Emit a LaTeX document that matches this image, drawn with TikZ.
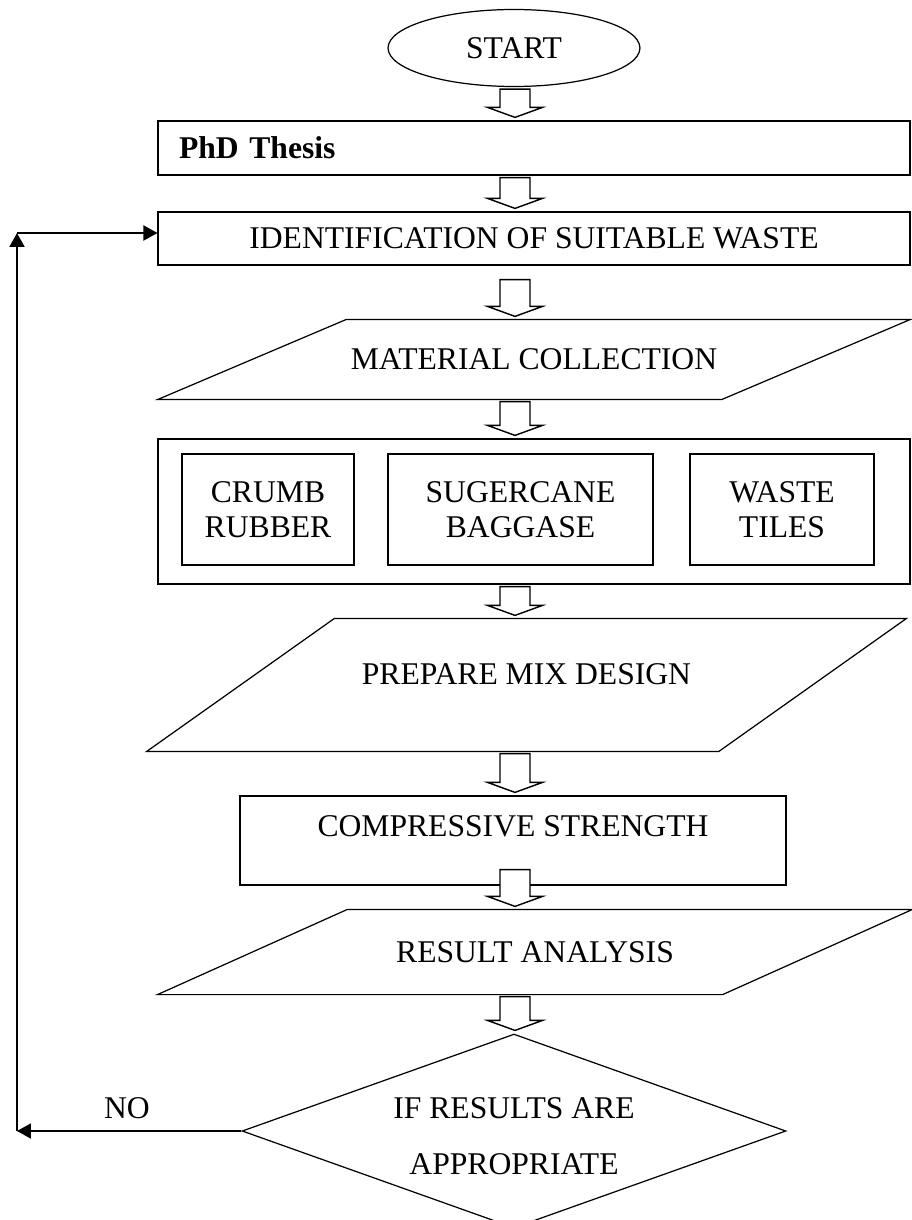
\documentclass[tikz,border=0pt]{standalone}
\usepackage{fontspec}
\setmainfont{Liberation Serif}
\usetikzlibrary{shapes.geometric}
\usetikzlibrary{arrows.meta}
\usetikzlibrary{calc}

% hollow block arrow: [start offset]{from}{to}
\newcommand{\fatarrow}[3][-0.04cm]{%
\draw[fat] ($(axis |- #2.south)+(-0.3cm,#1)$) -- ($(axis |- #3.north)+(-0.3cm,0.26cm)$)
  -- ++(-0.25cm,0) -- ($(axis |- #3.north)+(0,0.06cm)$) -- ++(0.55cm,0.2cm)
  -- ++(-0.25cm,0) -- ($(axis |- #2.south)+(0.3cm,#1)$) -- cycle;}

% slanted outline round a node: {node}{slant}
\newcommand{\parabox}[2]{%
\draw (#1.south west) -- ($(#1.north west)+(#2,0)$) -- (#1.north east)
  -- ($(#1.south east)+(-#2,0)$) -- cycle;}

\begin{document}
\begin{tikzpicture}[x=0.02cm,y=-0.02cm]

\tikzstyle{every node}=[font=\fontsize{18}{20}\selectfont, line width=0.7pt]
\tikzstyle{every path}=[line width=0.7pt]
\tikzstyle{box}=[draw, rectangle, inner sep=0pt, align=center]
\tikzstyle{io}=[rectangle, inner sep=0pt]
\tikzstyle{fat}=[draw, fill=white, line width=0.8pt, line join=miter]
\tikzstyle{back}=[line width=1.1pt, -{Triangle[length=0.28cm, width=0.3cm]}]

\useasboundingbox (0,0) rectangle (912,1220);
\coordinate (axis) at (515,0);

\node [draw, ellipse, inner sep=0pt, minimum width=5.04cm, minimum height=1.54cm] (start) at (514,48) {START};

\node [box, minimum width=15.04cm, minimum height=1.08cm, inner xsep=0.42cm, text width=14.2cm, align=left, font=\fontsize{18}{20}\selectfont\bfseries] (phd) at (534,148) {PhD Thesis};

\node [box, minimum width=15.04cm, minimum height=1.06cm] (ident) at (534,238.5) {IDENTIFICATION OF SUITABLE WASTE};

\node [io, minimum width=15.04cm, minimum height=1.58cm] (mat) at (534,359.5) {MATERIAL COLLECTION};
\parabox{mat}{3.78cm}

% wastes
\node [box, minimum width=15.04cm, minimum height=2.9cm] (waste) at (534,511.5) {};
\node [box, minimum width=3.44cm, minimum height=2.22cm] (crumb) at (268,509.5) {CRUMB\\RUBBER};
\node [box, minimum width=5.3cm, minimum height=2.22cm] (bagasse) at (520.5,509.5) {SUGERCANE\\BAGGASE};
\node [box, minimum width=3.68cm, minimum height=2.22cm] (tiles) at (782,509.5) {WASTE\\TILES};

\node [io, minimum width=15.18cm, minimum height=2.64cm, text depth=0.44cm] (design) at (526.5,685) {PREPARE MIX DESIGN};
\parabox{design}{3.76cm}

\node [box, minimum width=10.92cm, minimum height=1.78cm, text depth=0.58cm] (comp) at (513,840.5) {COMPRESSIVE STRENGTH};

\node [io, minimum width=15.08cm, minimum height=1.68cm] (result) at (535,952) {RESULT ANALYSIS};
\parabox{result}{3.8cm}

\node [draw, diamond, aspect=2.8, inner sep=0pt, minimum width=10.88cm, minimum height=3.88cm, align=center, text height=1.75cm, font=\fontsize{18}{32}\selectfont] (dec) at (514,1131) {IF RESULTS ARE\\APPROPRIATE};

% block arrows
\fatarrow{start}{phd}
\fatarrow{phd}{ident}
\fatarrow[-0.28cm]{ident}{mat}
\fatarrow{mat}{waste}
\fatarrow{waste}{design}
\fatarrow{design}{comp}
\fatarrow[0.32cm]{comp}{result}
\fatarrow{result}{dec}

% loop back
\coordinate (corner) at (17,233);
\node (no) at (127,1108) {NO};
\draw[back] (dec.west) -- (dec.west -| corner);
\draw[back] (dec.west -| corner) -- (corner);
\draw[back] (corner) -- (corner -| ident.west);

\end{tikzpicture}
\end{document}
